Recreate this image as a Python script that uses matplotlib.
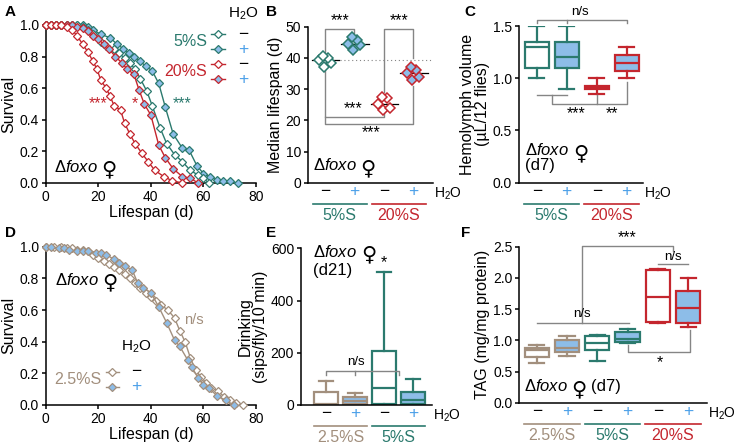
import numpy as np
import matplotlib.pyplot as plt

plt.rcParams['font.family'] = ['Liberation Sans', 'DejaVu Sans']
plt.rcParams['mathtext.fontset'] = 'custom'
plt.rcParams['mathtext.rm'] = 'Liberation Sans'
plt.rcParams['mathtext.it'] = 'Liberation Sans:italic'
plt.rcParams['axes.linewidth'] = 1.1
plt.rcParams['xtick.major.width'] = 1.1
plt.rcParams['ytick.major.width'] = 1.1
plt.rcParams['xtick.major.size'] = 3
plt.rcParams['ytick.major.size'] = 3
plt.rcParams['xtick.labelsize'] = 10
plt.rcParams['ytick.labelsize'] = 10
plt.rcParams['xtick.major.pad'] = 2
plt.rcParams['ytick.major.pad'] = 2

teal = '#2b7a6e'
red = '#c4262e'
tan = '#a28f7d'
fill_blue = '#8dbde8'
plus_blue = '#4a9fe8'
gray = '#858585'

# ---- A: lifespan, 5%S / 20%S with or without water ----
days_5_neg = [0, 2, 4, 6, 8, 10, 12, 14, 16, 18, 21, 23, 26, 28, 30, 32, 34, 36, 38.5, 40.5, 43.5, 46, 49, 52, 55, 58, 60, 62]
surv_5_neg = [1, 1, 1, 1, 1, 1, 1, 0.99, 0.97, 0.94, 0.89, 0.87, 0.85, 0.82, 0.79, 0.76, 0.72, 0.66, 0.58, 0.49, 0.35, 0.25, 0.18, 0.135, 0.08, 0.05, 0.03, 0.0]
days_5_pos = [0, 2, 4, 6, 8, 10, 12, 14, 16, 18, 21, 24.5, 27, 29.5, 31.5, 33.5, 36, 38, 40.5, 43, 45.5, 48.5, 52, 54.5, 57.5, 60, 62.5, 65, 67.5, 70, 73]
surv_5_pos = [1, 1, 1, 1, 1, 1, 1, 1, 0.99, 0.97, 0.94, 0.92, 0.88, 0.85, 0.82, 0.80, 0.77, 0.74, 0.71, 0.63, 0.48, 0.31, 0.22, 0.21, 0.11, 0.06, 0.04, 0.02, 0.01, 0.01, 0.0]
days_20_neg = [0, 2, 4, 6, 8, 10, 12, 14, 16, 18, 19.5, 21, 23, 24.5, 26, 28.5, 30, 32, 34, 36.5, 39, 41.5, 45, 48, 52]
surv_20_neg = [1, 1, 1, 1, 0.99, 0.97, 0.93, 0.88, 0.83, 0.77, 0.72, 0.65, 0.6, 0.55, 0.49, 0.46, 0.38, 0.31, 0.25, 0.19, 0.135, 0.08, 0.04, 0.015, 0.0]
days_20_pos = [0, 2, 4, 6, 8, 10, 12, 14, 16, 18, 20, 22, 24, 26.5, 29, 31, 33.5, 35.5, 37.5, 40, 43, 45.5, 48.5, 52, 55, 58]
surv_20_pos = [1, 1, 1, 1, 1, 1, 0.99, 0.98, 0.96, 0.93, 0.91, 0.88, 0.85, 0.80, 0.76, 0.72, 0.69, 0.59, 0.5, 0.43, 0.24, 0.16, 0.09, 0.04, 0.03, 0.0]

# ---- B: median lifespan per replicate ----
med_5_neg = [37.0, 38.5, 39.2, 40.0, 40.5]
med_5_pos = [42.5, 44.0, 44.3, 45.7, 46.8]
med_20_neg = [23.3, 23.8, 25.1, 27.0, 27.6]
med_20_pos = [32.9, 34.0, 35.3, 36.1, 37.0]
jitter = [-0.05, 0.2, -0.22, 0.1, -0.08]

# ---- C: hemolymph volume (whislo, q1, med, q3, whishi) ----
hemo_5_neg = [1.0, 1.1, 1.3, 1.35, 1.5]
hemo_5_pos = [0.9, 1.1, 1.2, 1.35, 1.5]
hemo_20_neg = [0.85, 0.9, 0.92, 0.93, 1.0]
hemo_20_pos = [1.0, 1.07, 1.15, 1.22, 1.3]

# ---- D: lifespan, 2.5%S ----
days_25_neg = [0, 3, 6, 8, 10, 12, 14, 16, 18, 20, 22, 24, 26, 28, 30, 32, 34, 36, 38, 40, 42, 44, 46.5, 49, 51, 53, 55, 57, 59, 61, 63, 65.5, 68, 70, 72.5, 75]
surv_25_neg = [1, 1, 1, 0.99, 0.99, 0.98, 0.98, 0.97, 0.95, 0.93, 0.91, 0.89, 0.87, 0.85, 0.83, 0.80, 0.77, 0.74, 0.71, 0.68, 0.66, 0.63, 0.60, 0.55, 0.47, 0.40, 0.30, 0.22, 0.18, 0.14, 0.11, 0.09, 0.05, 0.03, 0.01, 0.0]
days_25_pos = [0, 2, 5, 7, 9, 12, 14, 16, 19, 21, 23, 26, 28, 30, 33, 35, 37, 40, 43, 46, 49, 51, 54, 55.6, 58, 60, 62, 65, 68.5, 71.5]
surv_25_pos = [1, 1, 0.99, 0.99, 0.98, 0.97, 0.97, 0.97, 0.96, 0.96, 0.95, 0.92, 0.90, 0.88, 0.85, 0.77, 0.74, 0.71, 0.62, 0.52, 0.41, 0.37, 0.285, 0.24, 0.17, 0.125, 0.11, 0.06, 0.03, 0.0]

# ---- E: drinking (whislo, q1, med, q3, whishi) ----
drink_25_neg = [0, 0, 3, 50, 90]
drink_25_pos = [0, 5, 15, 30, 45]
drink_5_neg = [0, 5, 65, 205, 510]
drink_5_pos = [0, 5, 20, 50, 100]

# ---- F: TAG (whislo, q1, med, q3, whishi) ----
tag_25_neg = [0.63, 0.73, 0.85, 0.88, 0.93]
tag_25_pos = [0.75, 0.81, 0.87, 1.0, 1.07]
tag_5_neg = [0.67, 0.85, 0.95, 1.07, 1.08]
tag_5_pos = [0.95, 0.97, 1.02, 1.13, 1.18]
tag_20_neg = [1.27, 1.3, 1.7, 2.12, 2.15]
tag_20_pos = [1.22, 1.28, 1.52, 1.79, 2.0]

W, H = 737, 447
fig = plt.figure(figsize=(W / 100, H / 100), dpi=100)
renderer = fig.canvas.get_renderer()


def add_ax(rect):
    l, t, r, b = rect
    ax = fig.add_axes([l / W, 1 - b / H, (r - l) / W, (b - t) / H])
    ax.spines['top'].set_visible(False)
    ax.spines['right'].set_visible(False)
    return ax


def foxo(ax, x, y, extra=''):
    # "Δfoxo" then a larger female sign, then optional text
    t = ax.text(x, y, r'$\Delta\mathit{foxo}$', fontsize=12, va='baseline')
    w = t.get_window_extent(renderer).width * 72 / 100
    s = ax.annotate('♀', xy=(x, y), xytext=(w + 2.5, -3), textcoords='offset points',
                    fontsize=15, va='baseline', family='DejaVu Sans')
    if extra:
        w2 = s.get_window_extent(renderer).width * 72 / 100
        ax.annotate(extra, xy=(x, y), xytext=(w + 2.5 + w2 + 3, 0),
                    textcoords='offset points', fontsize=12, va='baseline')


def cat_axis(ax, rect, n, groups):
    l, t, r, b = rect
    ax.set_xticks(range(n))
    ax.set_xticklabels(['−', '+'] * (n // 2), fontsize=12.5)
    for i, lab in enumerate(ax.get_xticklabels()):
        lab.set_color('black' if i % 2 == 0 else plus_blue)
    ax.tick_params(axis='x', length=0, pad=1)
    tr = ax.get_xaxis_transform()
    hh = b - t
    for name, col, i0 in groups:
        ax.plot([i0 - 0.42, i0 + 1.42], [-21 / hh] * 2, color=col, lw=1.2,
                transform=tr, clip_on=False)
        ax.text(i0 + 0.5, -33 / hh, name, color=col, fontsize=11.5, ha='center',
                va='center', transform=tr)
    ax.text(1 + 1 / (r - l), -11 / hh, 'H$_2$O', fontsize=10, ha='left',
            va='center', transform=ax.transAxes)


def line(ax, xs, ys):
    ax.plot(xs, ys, color=gray, lw=1.0, clip_on=False)


def box(ax, pos, vals, edge, face):
    st = [dict(whislo=vals[0], q1=vals[1], med=vals[2], q3=vals[3], whishi=vals[4], fliers=[])]
    ax.bxp(st, positions=[pos], widths=0.8, capwidths=0.5, patch_artist=True,
           showfliers=False, manage_ticks=False,
           boxprops=dict(facecolor=face, edgecolor=edge, linewidth=1.6),
           medianprops=dict(color=edge, linewidth=1.6),
           whiskerprops=dict(color=edge, linewidth=1.6),
           capprops=dict(color=edge, linewidth=1.6))


def survival(ax, d, s, col, filled):
    ax.plot(d, s, color=col, lw=1.0, marker='D', ms=4.2, mew=0.9, mec=col,
            mfc=fill_blue if filled else 'white', clip_on=False, zorder=3)


def legend_row(ax, x, y, col, filled, sign, xs):
    ax.plot([x - 2.6, x, x + 2.6], [y] * 3, color=col, lw=1.0, marker='D', ms=4.2,
            mew=0.9, mec=col, mfc=fill_blue if filled else 'white', markevery=[1],
            clip_on=False)
    ax.text(xs, y, sign, color='black' if sign == '−' else plus_blue, fontsize=12.5,
            ha='center', va='center')


def survival_axes(ax):
    ax.set_xlim(0, 80)
    ax.set_ylim(0, 1)
    ax.set_xticks([0, 20, 40, 60, 80])
    ax.set_yticks(np.arange(0, 1.01, 0.2))
    ax.set_yticklabels(['%.1f' % v for v in np.arange(0, 1.01, 0.2)])
    ax.set_xlabel('Lifespan (d)', fontsize=11.5, labelpad=1)
    ax.set_ylabel('Survival', fontsize=11.5, labelpad=2)


# ================= A =================
rA = (45.7, 25, 256, 183)
ax = add_ax(rA)
survival(ax, days_5_pos, surv_5_pos, teal, True)
survival(ax, days_5_neg, surv_5_neg, teal, False)
survival(ax, days_20_pos, surv_20_pos, red, True)
survival(ax, days_20_neg, surv_20_neg, red, False)
survival_axes(ax)
ax.text(20, 0.5, '***', color=red, fontsize=11.5, ha='center', va='center')
ax.text(34, 0.5, '*', color=red, fontsize=11.5, ha='center', va='center')
ax.text(52, 0.5, '***', color=teal, fontsize=11.5, ha='center', va='center')
foxo(ax, 3.2, 0.072)
ax.text(75, 1.07, 'H$_2$O', fontsize=11, ha='center', va='center')
legend_row(ax, 65.6, 0.943, teal, False, '−', 75)
legend_row(ax, 65.6, 0.848, teal, True, '+', 75)
legend_row(ax, 65.6, 0.753, red, False, '−', 75)
legend_row(ax, 65.6, 0.658, red, True, '+', 75)
ax.text(61.4, 0.895, '5%S', color=teal, fontsize=11.5, ha='right', va='center')
ax.text(61.4, 0.705, '20%S', color=red, fontsize=11.5, ha='right', va='center')

# ================= B =================
rB = (308, 26.7, 433, 182.7)
ax = add_ax(rB)
for i, (vals, col, filled) in enumerate([(med_5_neg, teal, False), (med_5_pos, teal, True),
                                        (med_20_neg, red, False), (med_20_pos, red, True)]):
    ax.plot(i + np.array(jitter), vals, ls='none', marker='D', ms=5.6, mew=1.1, mec=col,
            mfc=fill_blue if filled else 'white', zorder=3)
    m = np.median(vals)
    ax.plot([i - 0.45, i + 0.48], [m, m], color='black', lw=0.9, zorder=2)
ax.plot([0.5, 3.66], [np.median(med_5_neg)] * 2, color=gray, lw=0.8, ls=(0, (1, 2.5)), zorder=1)
ax.set_xlim(-0.576, 3.661)
ax.set_ylim(0, 50)
ax.set_yticks(range(0, 51, 10))
ax.set_ylabel('Median lifespan (d)', fontsize=11.5, labelpad=2)
cat_axis(ax, rB, 4, [('5%S', teal, 0), ('20%S', red, 2)])
line(ax, [0, 0, 1, 1], [41.8, 49.4, 49.4, 48])
ax.text(0.5, 49.6, '***', fontsize=11.5, ha='center', va='bottom')
line(ax, [2, 2, 3, 3], [29, 49.4, 49.4, 40])
ax.text(2.5, 49.6, '***', fontsize=11.5, ha='center', va='bottom')
line(ax, [0, 0, 2, 2], [36, 21, 21, 22.5])
ax.text(0.95, 21.3, '***', fontsize=11.5, ha='center', va='bottom')
line(ax, [0, 0, 3, 3], [21, 18.8, 18.8, 31])
ax.text(1.55, 18.3, '***', fontsize=11.5, ha='center', va='top')
foxo(ax, -0.42, 4.1)

# ================= C =================
rC = (519, 26, 643, 182.7)
ax = add_ax(rC)
box(ax, 0, hemo_5_neg, teal, 'white')
box(ax, 1, hemo_5_pos, teal, fill_blue)
box(ax, 2, hemo_20_neg, red, 'white')
box(ax, 3, hemo_20_pos, red, fill_blue)
ax.set_xlim(-0.59, 3.543)
ax.set_ylim(0, 1.5)
ax.set_yticks([0, 0.5, 1.0, 1.5])
ax.set_yticklabels(['0.0', '0.5', '1.0', '1.5'])
ax.set_ylabel('Hemolymph volume\n(µL/12 flies)', fontsize=11.5, labelpad=2, linespacing=1.0)
cat_axis(ax, rC, 4, [('5%S', teal, 0), ('20%S', red, 2)])
line(ax, [0, 0, 3, 3], [1.53, 1.56, 1.56, 1.53])
line(ax, [1, 1], [1.56, 1.53])
ax.text(1.45, 1.58, 'n/s', fontsize=9.5, ha='center', va='bottom')
line(ax, [0, 1], [0.84, 0.84])
line(ax, [0.5, 0.5, 2, 2], [0.84, 0.757, 0.757, 0.84])
line(ax, [2, 3, 3], [0.757, 0.757, 0.965])
ax.text(1.3, 0.735, '***', fontsize=11.5, ha='center', va='top')
ax.text(2.5, 0.735, '**', fontsize=11.5, ha='center', va='top')
foxo(ax, -0.38, 0.265)
ax.text(-0.38, 0.12, '(d7)', fontsize=12, va='baseline')

# ================= D =================
rD = (45.7, 246.7, 256, 405)
ax = add_ax(rD)
survival(ax, days_25_neg, surv_25_neg, tan, False)
survival(ax, days_25_pos, surv_25_pos, tan, True)
survival_axes(ax)
foxo(ax, 3.6, 0.76)
ax.text(52.8, 0.54, 'n/s', color=tan, fontsize=10.5, va='center')
ax.text(34.4, 0.37, 'H$_2$O', fontsize=11, ha='center', va='center')
legend_row(ax, 25.4, 0.21, tan, False, '−', 34.4)
legend_row(ax, 25.4, 0.115, tan, True, '+', 34.4)
ax.text(21.2, 0.162, '2.5%S', color=tan, fontsize=11.5, ha='right', va='center')

# ================= E =================
rE = (301, 248.3, 432, 405)
ax = add_ax(rE)
box(ax, 0, drink_25_neg, tan, 'white')
box(ax, 1, drink_25_pos, tan, fill_blue)
box(ax, 2, drink_5_neg, teal, 'white')
box(ax, 3, drink_5_pos, teal, fill_blue)
ax.set_xlim(-0.862, 3.655)
ax.set_ylim(0, 600)
ax.set_yticks([0, 200, 400, 600])
ax.set_ylabel('Drinking\n(sips/fly/10 min)', fontsize=11.5, labelpad=2, linespacing=1.0)
cat_axis(ax, rE, 4, [('2.5%S', tan, 0), ('5%S', teal, 2)])
line(ax, [0, 0, 2.5, 2.5], [115, 131, 131, 115])
line(ax, [1, 1], [131, 115])
ax.text(1.05, 140, 'n/s', fontsize=9.5, ha='center', va='bottom')
ax.text(2, 515, '*', fontsize=11.5, ha='center', va='bottom')
foxo(ax, -0.44, 568)
ax.text(-0.44, 498, '(d21)', fontsize=12, va='baseline')

# ================= F =================
rF = (519.3, 246.7, 706.7, 402.7)
ax = add_ax(rF)
box(ax, 0, tag_25_neg, tan, 'white')
box(ax, 1, tag_25_pos, tan, fill_blue)
box(ax, 2, tag_5_neg, teal, 'white')
box(ax, 3, tag_5_pos, teal, fill_blue)
box(ax, 4, tag_20_neg, red, 'white')
box(ax, 5, tag_20_pos, red, fill_blue)
ax.set_xlim(-0.574, 5.61)
ax.set_ylim(0, 2.5)
ax.set_yticks([0, 0.5, 1.0, 1.5, 2.0, 2.5])
ax.set_yticklabels(['0.0', '0.5', '1.0', '1.5', '2.0', '2.5'])
ax.set_ylabel('TAG (mg/mg protein)', fontsize=11.5, labelpad=2)
cat_axis(ax, rF, 6, [('2.5%S', tan, 0), ('5%S', teal, 2), ('20%S', red, 4)])
line(ax, [1.5, 1.5, 4.5, 4.5], [1.27, 2.51, 2.51, 2.43])
ax.text(2.97, 2.53, '***', fontsize=11.5, ha='center', va='bottom')
line(ax, [4, 5], [2.22, 2.22])
ax.text(4.5, 2.33, 'n/s', fontsize=9.5, ha='center', va='center')
line(ax, [0, 3.05], [1.27, 1.27])
ax.text(1.5, 1.32, 'n/s', fontsize=9.5, ha='center', va='bottom')
line(ax, [3, 3, 5.06, 5.06], [0.925, 0.81, 0.81, 1.165])
ax.text(4.05, 0.77, '*', fontsize=11.5, ha='center', va='top')
foxo(ax, -0.42, 0.19, '(d7)')

for lab, x, y in [('A', 5, 12), ('B', 266, 12), ('C', 464, 12),
                  ('D', 5, 233), ('E', 266, 233), ('F', 461, 233)]:
    fig.text(x / W, 1 - y / H, lab, fontsize=11, fontweight='bold', va='center')

fig.savefig('out.png', dpi=100)
